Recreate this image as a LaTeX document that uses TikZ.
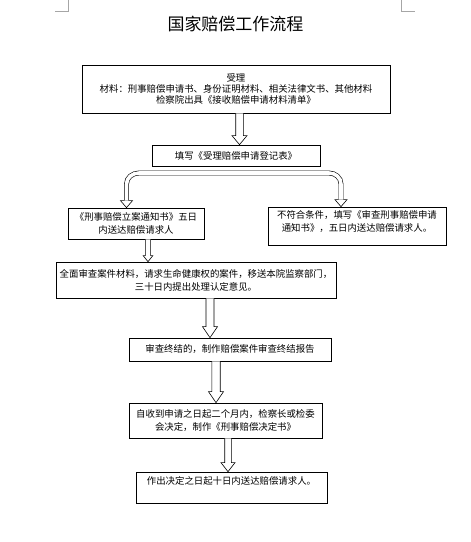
\documentclass[tikz,border=0pt]{standalone}
\usepackage{fontspec}
\setmainfont{Noto Sans CJK SC}
\usetikzlibrary{calc}
\tikzset{
  box/.style={draw=black, line width=0.7pt, rectangle, inner sep=0pt, align=center,
    font=\fontsize{9.4}{13}\selectfont},
  blk/.style={draw=black, line width=0.6pt, fill=white},
  fork/.style={draw=black, line width=0.6pt, double=white, double distance=3.6pt},
  crop/.style={draw=black!35, line width=0.7pt}
}
\newcommand\barrow[6]{%
  \draw[blk] let \p1=(#2.south), \p2=(#3.north) in
   (#1pt-#4pt,\y1) -- (#1pt-#4pt,\y2+#6pt) -- (#1pt-#5pt,\y2+#6pt) -- (#1pt,\y2)
   -- (#1pt+#5pt,\y2+#6pt) -- (#1pt+#4pt,\y2+#6pt) -- (#1pt+#4pt,\y1);}
\begin{document}
\begin{tikzpicture}[x=1pt,y=1pt]
\useasboundingbox (0,0) rectangle (471,-542);
% crop marks
\draw[crop] (68.3,0) -- (68.3,-11) -- (55,-11);
\draw[crop] (401.7,0) -- (401.7,-11) -- (415,-11);
% title
\node (title) at (235.5,-24) {\fontsize{17}{20}\selectfont 国家赔偿工作流程};
% boxes
\node[box, minimum width=308pt, minimum height=48pt, font=\fontsize{9.4}{11.4}\selectfont] (b1) at (236,-89)
  {受理\\材料：刑事赔偿申请书、身份证明材料、相关法律文书、其他材料\\检察院出具《接收赔偿申请材料清单》};
\node[box, minimum width=168pt, minimum height=21pt] (b2) at (236,-155.5) {填写《受理赔偿申请登记表》};
\node[box, minimum width=136pt, minimum height=31pt] (b3) at (136,-223.5) {《刑事赔偿立案通知书》五日\\内送达赔偿请求人};
\node[box, minimum width=178pt, minimum height=38pt] (b4) at (357,-226) {不符合条件，填写《审查刑事赔偿申请\\通知书》，五日内送达赔偿请求人。\\[-4pt]\mbox{}};
\node[box, minimum width=280pt, minimum height=36pt] (b5) at (196,-280) {全面审查案件材料，请求生命健康权的案件，移送本院监察部门，\\三十日内提出处理认定意见。};
\node[box, minimum width=202pt, minimum height=23pt] (b6) at (230,-349.5) {审查终结的，制作赔偿案件审查终结报告};
\node[box, minimum width=193pt, minimum height=35pt] (b7) at (225.5,-420.5) {自收到申请之日起二个月内，检察长或检委\\会决定，制作《刑事赔偿决定书》};
\node[box, minimum width=191pt, minimum height=31pt] (b8) at (231.5,-487.5) {作出决定之日起十日内送达赔偿请求人。\\\mbox{}};
% block arrows
\barrow{239.5}{b1}{b2}{3.8}{7.5}{9}
\barrow{148}{b3}{b5}{2.6}{4.8}{6}
\barrow{210}{b5}{b6}{4}{7.5}{11}
\barrow{216}{b6}{b7}{4.2}{7.5}{11}
\barrow{228}{b7}{b8}{3.3}{7}{9}
% forked curved arrow
\draw[fork] let \p1=(b3.north), \p2=(b4.north) in
  (126.5pt,\y1+7pt) -- (126.5pt,-184pt) to[out=90,in=180] (139pt,-173pt)
  -- (329pt,-173pt) to[out=0,in=90] (341pt,-184pt) -- (341pt,\y2+7pt);
\draw[blk, fill=none] let \p1=(b3.north) in
  (124.2pt,\y1+7pt) -- (120.5pt,\y1+7pt) -- (126.5pt,\y1) -- (132.5pt,\y1+7pt) -- (128.8pt,\y1+7pt);
\draw[blk, fill=none] let \p2=(b4.north) in
  (338.7pt,\y2+7pt) -- (335pt,\y2+7pt) -- (341pt,\y2) -- (347pt,\y2+7pt) -- (343.3pt,\y2+7pt);
\end{tikzpicture}
\end{document}
